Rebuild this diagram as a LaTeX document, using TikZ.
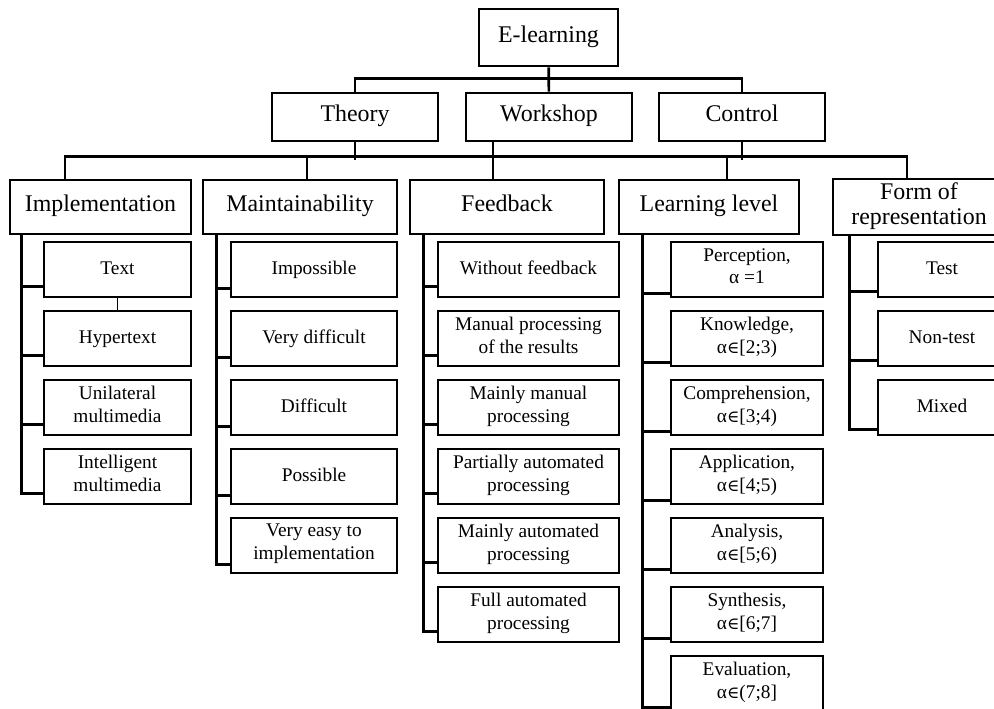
\documentclass[tikz,border=0pt]{standalone}
\usepackage{fontspec}
\setmainfont{Liberation Serif}
\newfontfamily\symfont{DejaVu Serif}
\usetikzlibrary{calc}
\newcommand{\elem}{{\symfont\fontsize{9.5}{13}\selectfont ∈}}

\begin{document}
\begin{tikzpicture}
  [x=0.02cm,y=-0.02cm,line width=1.5pt,
   box/.style={draw,align=center,inner sep=2pt,
     execute at begin node=\strut,execute at end node=\strut},
   big/.style={box,font=\fontsize{13.6}{14}\selectfont},
   leaf/.style={box,minimum height=1.1cm,font=\fontsize{11}{13}\selectfont}]
  \useasboundingbox (0,0) rectangle (994,708);
  \clip (0,0) rectangle (994,708);

  \node[big,minimum width=2.78cm,minimum height=1.14cm] (el) at (548.5,37.5) {E-learning};
  \node[big,minimum width=3.32cm,minimum height=0.96cm] (th) at (355,117) {Theory};
  \node[big,minimum width=3.32cm,minimum height=0.96cm] (ws) at (549,117) {Workshop};
  \node[big,minimum width=3.32cm,minimum height=0.96cm] (ct) at (742,117) {Control};

  \node[big,minimum width=3.62cm,minimum height=1.08cm] (impl) at (100.5,207) {Implementation};
  \node[big,minimum width=3.88cm,minimum height=1.08cm] (maint) at (300,207) {Maintainability};
  \node[big,minimum width=3.88cm,minimum height=1.08cm] (feed) at (507,207) {Feedback};
  \node[big,minimum width=3.6cm,minimum height=1.08cm] (learn) at (709,207) {Learning level};
  \node[big,minimum width=3.44cm,minimum height=1.08cm] (form) at (919,207) {Form of\\representation};

  \foreach \txt [count=\i] in {Text,Hypertext,{Unilateral\\multimedia},{Intelligent\\multimedia}}
    \node[leaf,minimum width=2.94cm] (imp\i) at (117.5,{200.5+69*\i}) {\txt};
  \foreach \txt [count=\i] in {Impossible,Very difficult,Difficult,Possible,{Very easy to\\implementation}}
    \node[leaf,minimum width=3.32cm] (mnt\i) at (314,{200.5+69*\i}) {\txt};
  \foreach \txt [count=\i] in {Without feedback,{Manual processing\\of the results},{Mainly manual\\processing},
      {Partially automated\\processing},{Mainly automated\\processing},{Full automated\\processing}}
    \node[leaf,minimum width=3.62cm] (fb\i) at (528.5,{200.5+69*\i}) {\txt};
  \foreach \txt [count=\i] in {{Perception,\\α =1},{Knowledge,\\α\elem[2;3)},{Comprehension,\\α\elem[3;4)},
      {Application,\\α\elem[4;5)},{Analysis,\\α\elem[5;6)},{Synthesis,\\α\elem[6;7]},{Evaluation,\\α\elem(7;8]}}
    \node[leaf,minimum width=3.04cm] (lvl\i) at (747,{200.5+69*\i}) {\txt};
  \foreach \txt [count=\i] in {Test,Non-test,Mixed}
    \node[leaf,minimum width=2.56cm] (frm\i) at (942,{200.5+69*\i}) {\txt};

  % upper levels
  \draw (el) -- (ws);
  \draw (th.north) -- ++(0,-13.5) -| (ct.north);
  \draw ($(impl.north)+(-35.5,0)$) |- ($(form.north)+(-12,-21)$) -- ($(form.north)+(-12,0)$);
  \draw (th.south) -- ++(0,18);
  \draw (ct.south) -- ++(0,18);
  \draw ($(maint.north)+(7,0)$) -- ++(0,-21);
  \draw ($(ws.south)+(-56,0)$) -- ($(feed.north)+(-14,0)$);
  \draw ($(learn.north)+(18,0)$) -- ++(0,-21);

  % columns
  \foreach \i in {1,...,4}
    \draw ($(impl.south west)+(13,0)$) |- ($(imp\i.south west)+(0,-12)$);
  \foreach \i in {1,...,5}
    \draw ($(maint.south west)+(15,0)$) |- ($(mnt\i.south west)+(0,-10)$);
  \foreach \i in {1,...,6}
    \draw ($(feed.south west)+(15,0)$) |- ($(fb\i.south west)+(0,-12)$);
  \foreach \i in {1,...,7}
    \draw ($(learn.south west)+(25,0)$) |- ($(lvl\i.south west)+(0,-5)$);
  \foreach \i in {1,...,3}
    \draw ($(form.south west)+(18,0)$) |- ($(frm\i.south west)+(0,-7)$);
  \draw[line width=0.5pt] (imp1) -- (imp2);

\end{tikzpicture}
\end{document}
